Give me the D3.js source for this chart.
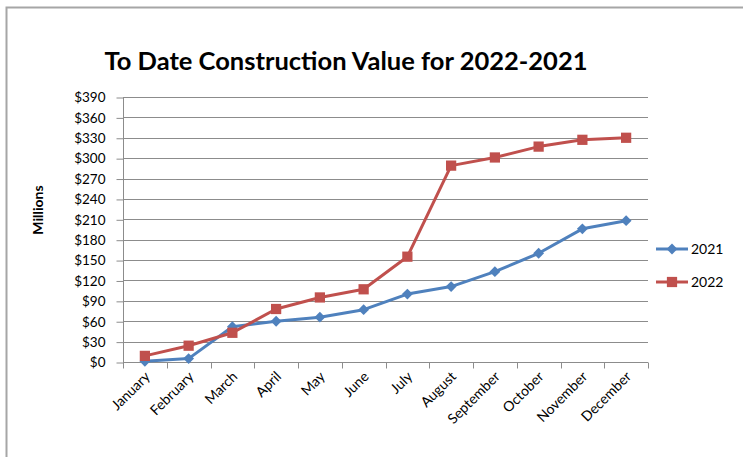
<!DOCTYPE html>
<html>
<head>
<meta charset="utf-8">
<script src="https://cdn.jsdelivr.net/npm/d3@7"></script>
<style>
  body { margin: 0; background: #fff; }
  text { font-family: Lato, "Open Sans", sans-serif; fill: #000; }
</style>
</head>
<body>
<div id="chart"></div>
<script>
var months = ["January","February","March","April","May","June","July","August","September","October","November","December"];
var v2021 = [1, 5, 52, 60, 66, 77, 100, 111, 133, 160, 196, 208];
var v2022 = [9, 24, 43, 78, 95, 107, 155, 289, 301, 317, 327, 330];
var yTicks = [0,30,60,90,120,150,180,210,240,270,300,330,360,390];

var W = 743, H = 457,
    pl = 123, pr = 648, pt = 97, pb = 362;

var svg = d3.select("#chart").append("svg")
  .attr("width", W).attr("height", H);

// outer frame
svg.append("rect")
  .attr("x", 6.5).attr("y", 7.5)
  .attr("width", W).attr("height", H)
  .attr("fill", "none").attr("stroke", "#a6a6a6").attr("stroke-width", 2);

var x = d3.scaleBand().domain(months).range([pl, pr]);
var y = d3.scaleLinear().domain([0, 390]).range([pb, pt]);

// gridlines
svg.append("g").selectAll("line")
  .data(yTicks.slice(1))
  .enter().append("line")
  .attr("x1", pl).attr("x2", pr)
  .attr("y1", function(d){ return Math.round(y(d)) + 0.5; })
  .attr("y2", function(d){ return Math.round(y(d)) + 0.5; })
  .attr("stroke", "#8c8c8c").attr("stroke-width", 1);

// y axis
var yAxis = svg.append("g")
  .attr("transform", "translate(" + (pl + 0.5) + ",0.5)")
  .call(d3.axisLeft(y).tickValues(yTicks).tickSize(7).tickPadding(11)
    .tickFormat(function(d){ return "$" + d; }));
yAxis.selectAll("line, path").attr("stroke", "#8c8c8c");
yAxis.select("path").attr("d", "M0," + pt + "V" + pb);
yAxis.selectAll("text").style("font-size", "13.5px").attr("fill", "#000");

// x axis, ticks at category boundaries
var xg = svg.append("g").attr("transform", "translate(0," + (pb + 0.5) + ")");
xg.append("line").attr("x1", pl).attr("x2", pr).attr("stroke", "#8c8c8c");
var bounds = months.map(function(m){ return x(m); }).concat([pr]);
xg.selectAll(".tk").data(bounds).enter().append("line")
  .attr("class", "tk")
  .attr("x1", function(d){ return Math.round(d) + 0.5; })
  .attr("x2", function(d){ return Math.round(d) + 0.5; })
  .attr("y1", 0).attr("y2", 6).attr("stroke", "#8c8c8c");
xg.selectAll("text").data(months).enter().append("text")
  .attr("text-anchor", "end")
  .style("font-size", "14px")
  .attr("transform", function(d){
    return "translate(" + (x(d) + x.bandwidth() / 2 + 6) + ",15) rotate(-45)";
  })
  .text(function(d){ return d; });

// title
svg.append("text")
  .attr("x", 346).attr("y", 70)
  .attr("text-anchor", "middle")
  .style("font-size", "25.5px").style("font-weight", "bold")
  .text("To Date Construction Value for 2022-2021");

// y title
svg.append("text")
  .attr("transform", "translate(43,210) rotate(-90)")
  .attr("text-anchor", "middle")
  .style("font-size", "14px").style("font-weight", "bold")
  .text("Millions");

var cx = function(d, i){ return x(months[i]) + x.bandwidth() / 2; };
var line = d3.line().x(cx).y(function(d){ return y(d); });

var series = [
  {name: "2021", values: v2021, color: "#4f81bd", shape: d3.symbolDiamond2, size: 75},
  {name: "2022", values: v2022, color: "#c0504d", shape: d3.symbolSquare, size: 105}
];

series.forEach(function(s){
  svg.append("path").datum(s.values)
    .attr("d", line)
    .attr("fill", "none").attr("stroke", s.color).attr("stroke-width", 3)
    .attr("stroke-linejoin", "round");
  svg.append("g").selectAll("path").data(s.values).enter().append("path")
    .attr("d", d3.symbol().type(s.shape).size(s.size))
    .attr("transform", function(d, i){ return "translate(" + cx(d, i) + "," + y(d) + ")"; })
    .attr("fill", s.color);
});

// legend
var leg = svg.append("g").selectAll("g").data(series).enter().append("g")
  .attr("transform", function(d, i){ return "translate(656," + (249 + i * 33) + ")"; });
leg.append("line").attr("x1", 0).attr("x2", 32)
  .attr("stroke", function(d){ return d.color; }).attr("stroke-width", 3);
leg.append("path")
  .attr("d", function(d){ return d3.symbol().type(d.shape).size(d.size)(); })
  .attr("transform", "translate(16,0)")
  .attr("fill", function(d){ return d.color; });
leg.append("text").attr("x", 35).attr("dy", "0.35em")
  .style("font-size", "14px")
  .text(function(d){ return d.name; });
</script>
</body>
</html>
